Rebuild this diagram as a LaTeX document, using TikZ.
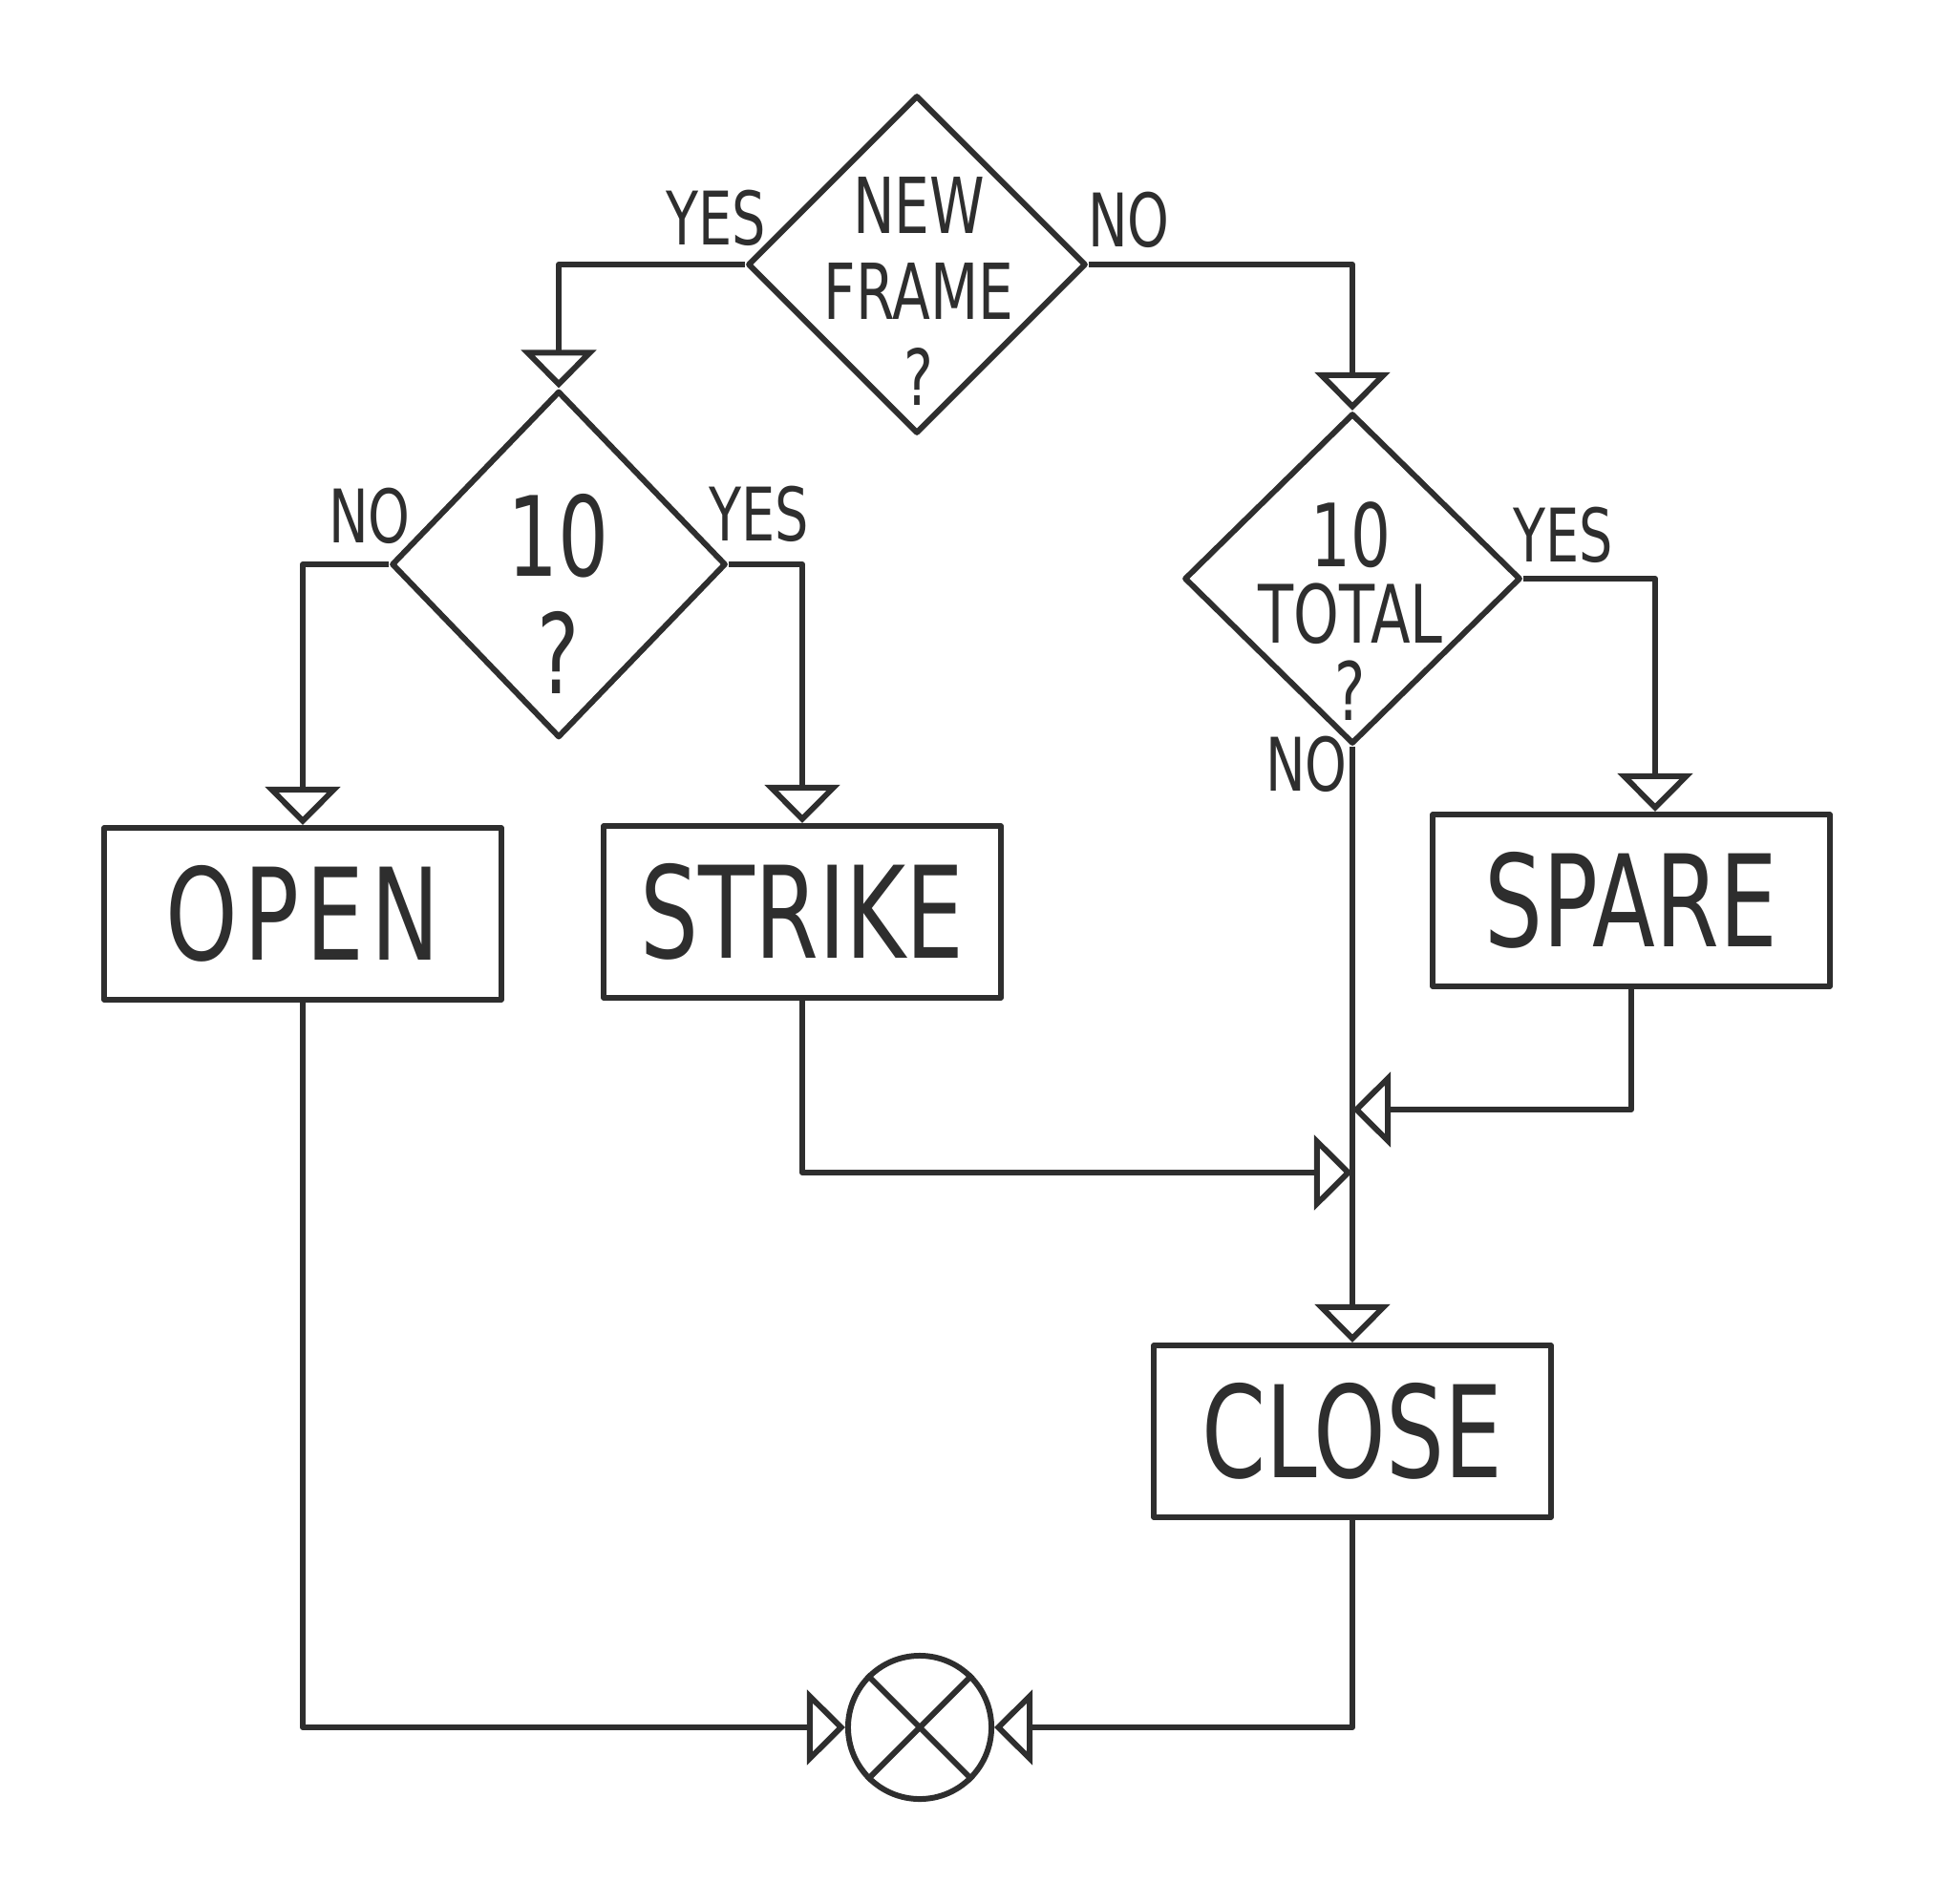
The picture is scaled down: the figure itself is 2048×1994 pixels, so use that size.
\documentclass[tikz,border=0pt]{standalone}
\usepackage{fontspec}
\newfontfamily\handfont[FakeStretch=0.72]{DejaVu Sans}
\usetikzlibrary{shapes.geometric,arrows.meta}
\definecolor{pencil}{HTML}{2E2E2E}
\begin{document}
\begin{tikzpicture}[x=0.01cm,y=-0.01cm,
  line width=1.7pt, color=pencil, line join=round,
  flow/.style={-{Triangle[open,width=7.8mm,length=4mm]}},
  decision/.style={diamond,draw,inner sep=0pt,
    minimum width=3.54cm,minimum height=3.54cm},
  question/.style={align=center,inner sep=0pt},
  result/.style={rectangle,draw,minimum width=4.15cm,minimum height=1.8cm,
    font=\handfont\fontsize{38}{40}\selectfont},
  answer/.style={inner sep=0pt,font=\handfont\fontsize{22}{24}\selectfont}]
  \useasboundingbox (0,0) rectangle (2048,1994);
  % 判断
  \node[decision] (newframe) at (960,277) {};
  \node[decision,minimum width=3.5cm,minimum height=3.63cm] (ten) at (585,591) {};
  \node[decision,minimum width=3.52cm,minimum height=3.46cm] (total) at (1416,606) {};
  \node[question,font=\handfont\fontsize{23}{25.5}\selectfont] (newframetxt)
    at (962,305) {NEW\\FRAME\\?};
  \node[question,font=\handfont\fontsize{33}{35}\selectfont] (tentxt)
    at (585,622) {10\\?};
  \node[question,font=\handfont\fontsize{24}{23}\selectfont] (totaltxt)
    at (1414,640) {{\fontsize{26}{23}\selectfont 10}\\TOTAL\\?};
  % 结果
  \node[result] (open) at (317,957) {O\kern2pt P\kern2pt E\kern2pt N};
  \node[result] (strike) at (840,955) {STRIKE};
  \node[result] (spare) at (1708,943) {SPARE};
  \node[result] (close) at (1416,1499) {CLOSE};
  \node[circle,draw,minimum size=1.5cm,inner sep=0pt] (stop) at (963,1809) {};
  \draw (stop.north west) -- (stop.south east)
        (stop.north east) -- (stop.south west);
  % 连线
  \draw[flow] (newframe.west) -| (ten.north);
  \draw[flow] (newframe.east) -| (total.north);
  \draw[flow] (ten.west) -| (open.north);
  \draw[flow] (ten.east) -| (strike.north);
  \draw[flow] (total.east) -| ([xshift=0.25cm]spare.north);
  \draw[flow] (total.south) -- (close.north);
  \coordinate (jspare) at (1416,1162);
  \coordinate (jstrike) at (1416,1228);
  \draw[flow] (spare.south) |- (jspare);
  \draw[flow] (strike.south) |- (jstrike);
  \draw[flow] (open.south) |- (stop.west);
  \draw[flow] (close.south) |- (stop.east);
  \node[answer] (yes1) at (750,228) {YES};
  \node[answer] (no1) at (1182,230) {NO};
  \node[answer] (no2) at (387,540) {NO};
  \node[answer] (yes2) at (795,538) {YES};
  \node[answer] (yes3) at (1637,560) {YES};
  \node[answer] (no3) at (1368,800) {NO};
\end{tikzpicture}
\end{document}
